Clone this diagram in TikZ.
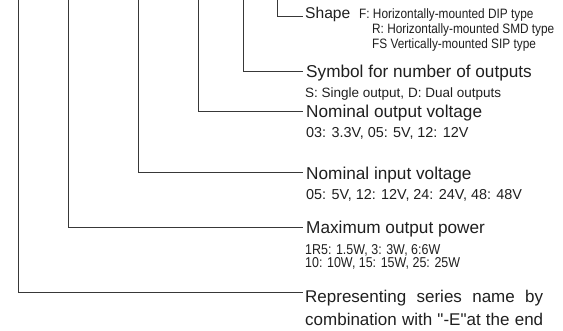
\documentclass[tikz,border=0pt]{standalone}
\usepackage{fontspec}
\setmainfont{Liberation Sans}[Ligatures=TeXOff]
\newfontfamily\condfont[FakeStretch=0.87]{Liberation Sans}
\begin{document}
\begin{tikzpicture}[x=1pt,y=-1pt,
  conn/.style={draw=black!78,line width=0.8pt},
  lbl/.style={anchor=base west,inner sep=0pt,text=black!88,font=\fontsize{17.2}{20}\selectfont},
  sub/.style={anchor=base west,inner sep=0pt,text=black!88,font=\fontsize{14.4}{17}\selectfont},
  subs/.style={anchor=base west,inner sep=0pt,text=black!88,font=\fontsize{13.5}{16}\selectfont},
  subp/.style={anchor=base west,inner sep=0pt,text=black!88,font=\condfont\fontsize{14.3}{16}\selectfont},
  subf/.style={anchor=base west,inner sep=0pt,text=black!88,font=\condfont\fontsize{13.6}{16}\selectfont}]
\useasboundingbox (0,0) rectangle (563,331);
% top ends of the vertical connectors
\coordinate (t1) at (277,0);
\coordinate (t2) at (243,0);
\coordinate (t3) at (198,0);
\coordinate (t4) at (138,0);
\coordinate (t5) at (68,0);
\coordinate (t6) at (18,0);
% line ends
\coordinate (e1) at (303,16.5);
\coordinate (e2) at (303,71);
\coordinate (e3) at (303,111);
\coordinate (e4) at (303,172.5);
\coordinate (e5) at (303,227);
\coordinate (e6) at (303,292);
% labels
\node[lbl,font=\fontsize{15.6}{18}\selectfont] (shape) at (305,19) {Shape};
\node[subf] (f1) at (359,18.5) {F: Horizontally-mounted DIP type};
\node[subf] (f2) at (372,33.5) {R: Horizontally-mounted SMD type};
\node[subf] (f3) at (372,48.5) {FS Vertically-mounted SIP type};
\node[lbl] (sym) at (306,77.7) {Symbol for number of outputs};
\node[subs] (symsub) at (305,97.7) {S: Single output, D: Dual outputs};
\node[lbl] (vout) at (306,117.5) {Nominal output voltage};
\node[sub] (voutsub) at (306,137.5) {03: 3.3V, 05: 5V, 12: 12V};
\node[lbl] (vin) at (306,179.5) {Nominal input voltage};
\node[sub] (vinsub) at (306,200) {05: 5V, 12: 12V, 24: 24V, 48: 48V};
\node[lbl] (pow) at (306,233.5) {Maximum output power};
\node[subp] (pow1) at (305,255) {1R5: 1.5W, 3: 3W, 6:6W};
\node[subp] (pow2) at (305,268) {10: 10W, 15: 15W, 25: 25W};
\node[lbl,font=\fontsize{17}{20}\selectfont] (ser1) at (305,303) {\makebox[238pt][s]{Representing series name by}};
\node[lbl,font=\fontsize{17}{20}\selectfont] (ser2) at (305,326) {\makebox[238pt][s]{combination with "-E"at the end}};
% connectors
\draw[conn] (t1) |- (e1);
\draw[conn] (t2) |- (e2);
\draw[conn] (t3) |- (e3);
\draw[conn] (t4) |- (e4);
\draw[conn] (t5) |- (e5);
\draw[conn] (t6) |- (e6);
\end{tikzpicture}
\end{document}
